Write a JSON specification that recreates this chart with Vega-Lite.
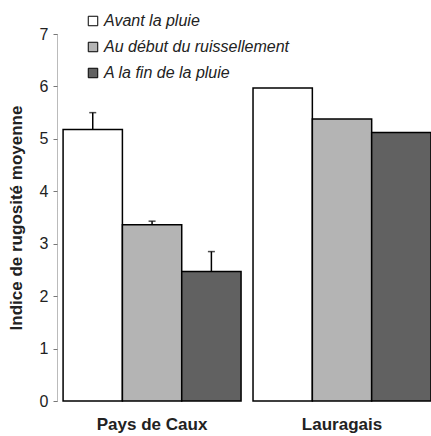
{
  "$schema": "https://vega.github.io/schema/vega-lite/v6.json",
  "width": 374,
  "height": 367,
  "autosize": {"type": "none"},
  "padding": {"left": 57, "top": 34, "right": 0, "bottom": 35},
  "background": "white",
  "config": {
    "view": {"stroke": null},
    "font": "Liberation Sans"
  },
  "data": {
    "values": [
      {"group": "Pays de Caux", "serie": "Avant la pluie", "value": 5.18, "upper": 5.5},
      {"group": "Pays de Caux", "serie": "Au début du ruissellement", "value": 3.36, "upper": 3.43},
      {"group": "Pays de Caux", "serie": "A la fin de la pluie", "value": 2.47, "upper": 2.85},
      {"group": "Lauragais", "serie": "Avant la pluie", "value": 5.97, "upper": null},
      {"group": "Lauragais", "serie": "Au début du ruissellement", "value": 5.38, "upper": null},
      {"group": "Lauragais", "serie": "A la fin de la pluie", "value": 5.12, "upper": null}
    ]
  },
  "encoding": {
    "x": {
      "field": "group",
      "type": "nominal",
      "sort": ["Pays de Caux", "Lauragais"],
      "scale": {"paddingInner": 0.063, "paddingOuter": 0.016, "align": 1},
      "axis": {
        "title": null,
        "labelAngle": 0,
        "labelFontWeight": "bold",
        "labelFontSize": 17,
        "labelColor": "#222",
        "labelPadding": 15,
        "domain": false,
        "ticks": false
      }
    },
    "xOffset": {
      "field": "serie",
      "type": "nominal",
      "sort": ["Avant la pluie", "Au début du ruissellement", "A la fin de la pluie"],
      "scale": {"paddingInner": 0, "paddingOuter": 0}
    }
  },
  "layer": [
    {
      "mark": {"type": "bar", "stroke": "black", "strokeWidth": 1.5},
      "encoding": {
        "y": {
          "field": "value",
          "type": "quantitative",
          "scale": {"domain": [0, 7]},
          "axis": {
            "title": "Indice de rugosité moyenne",
            "titleFontSize": 17,
            "titleFontWeight": "bold",
            "titleColor": "#222",
            "titlePadding": 14,
            "values": [0, 1, 2, 3, 4, 5, 6, 7],
            "format": "d",
            "grid": false,
            "domainColor": "#777",
            "domainDash": [1, 1],
            "tickColor": "#777",
            "tickSize": 4,
            "labelFontSize": 16,
            "labelColor": "#222",
            "labelPadding": 5
          }
        },
        "color": {
          "field": "serie",
          "type": "nominal",
          "sort": ["Avant la pluie", "Au début du ruissellement", "A la fin de la pluie"],
          "scale": {
            "domain": ["Avant la pluie", "Au début du ruissellement", "A la fin de la pluie"],
            "range": ["#ffffff", "#b4b4b4", "#616161"]
          },
          "legend": {
            "title": null,
            "orient": "none",
            "legendX": 28,
            "legendY": -21,
            "symbolType": "square",
            "symbolSize": 90,
            "symbolStrokeColor": "black",
            "symbolStrokeWidth": 1,
            "symbolOpacity": 1,
            "labelFontSize": 16,
            "labelFontStyle": "italic",
            "labelColor": "#222",
            "labelOffset": 3,
            "labelLimit": 400,
            "rowPadding": 10
          }
        }
      }
    },
    {
      "transform": [{"filter": "datum.upper != null"}],
      "mark": {"type": "rule", "color": "black", "strokeWidth": 1.5},
      "encoding": {
        "y": {"field": "value", "type": "quantitative"},
        "y2": {"field": "upper"}
      }
    },
    {
      "transform": [{"filter": "datum.upper != null"}],
      "mark": {"type": "tick", "color": "black", "thickness": 1.5, "size": 7, "orient": "horizontal"},
      "encoding": {
        "y": {"field": "upper", "type": "quantitative"}
      }
    }
  ]
}
